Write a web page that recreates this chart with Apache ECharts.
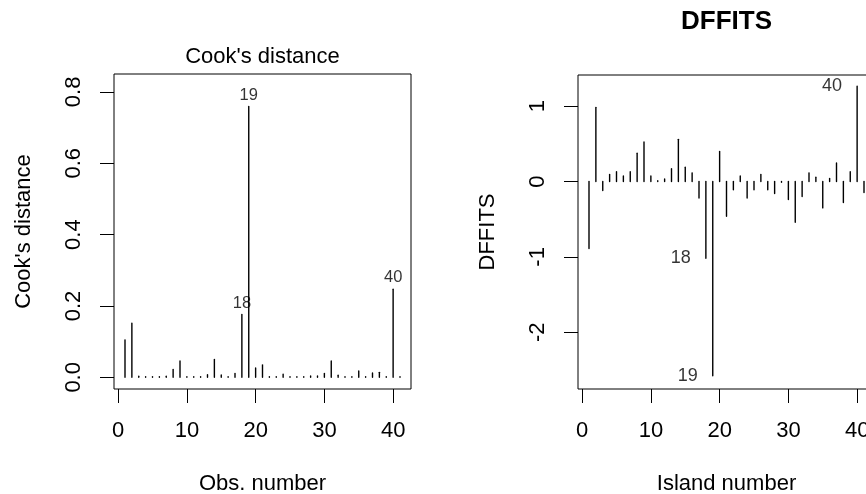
<!DOCTYPE html>
<html>
<head>
<meta charset="utf-8">
<script src="https://cdn.jsdelivr.net/npm/echarts@6/dist/echarts.min.js"></script>
<style>
  html, body { margin: 0; padding: 0; background: #fff; }
  #main { width: 866px; height: 494px; }
</style>
</head>
<body>
<div id="main"></div>
<script>
// observation numbers 1..41
const obs = [1,2,3,4,5,6,7,8,9,10,11,12,13,14,15,16,17,18,19,20,21,22,23,24,25,26,27,28,29,30,31,32,33,34,35,36,37,38,39,40,41]
// Cook's distance per observation
const cooks = [0.105,0.152,0.003,0.002,0.002,0.002,0.003,0.022,0.046,0.002,
  0.002,0.002,0.0075,0.050,0.0065,0.002,0.011,0.176,0.759,0.026,
  0.035,0.002,0.002,0.009,0.002,0.002,0.002,0.004,0.004,0.011,
  0.046,0.006,0.002,0.002,0.018,0.002,0.012,0.014,0.002,0.247,0.002]
// DFFITS per island
const dffits = [-0.89,0.985,-0.12,0.093,0.13,0.075,0.13,0.375,0.525,0.075,
  0.01,0.035,0.17,0.56,0.19,0.115,-0.22,-1.02,-2.58,0.40,
  -0.46,-0.11,0.075,-0.22,-0.11,0.093,-0.11,-0.16,-0.01,-0.24,
  -0.54,-0.20,0.115,0.057,-0.35,0.04,0.247,-0.28,0.13,1.267,-0.146]
// labelled points
const cookIds = [18, 19, 40]
const dffitsIds = [18, 19, 40]
// tick labels
const xTicks = [0, 10, 20, 30, 40]
const cookTicks = [0, 0.2, 0.4, 0.6, 0.8]
const dffitsTicks = [-2, -1, 0, 1]

const FONT = 'Liberation Sans, Arial, sans-serif'
const chart = echarts.init(document.getElementById('main'))

// vertical line from 0 to the value, like R type = "h"
function spike (params, api) {
  const p0 = api.coord([api.value(0), 0])
  const p1 = api.coord([api.value(0), api.value(1)])
  return {
    type: 'line',
    shape: { x1: p0[0], y1: p0[1], x2: p1[0], y2: p1[1] },
    style: { stroke: '#000', lineWidth: 1.4, lineCap: 'round' }
  }
}

function xAxisOf (idx, name) {
  return {
    type: 'value', gridIndex: idx, min: -0.6, max: 42.6,
    name: name, nameLocation: 'middle', nameGap: 84,
    nameTextStyle: { color: '#000', fontSize: 22, fontFamily: FONT },
    splitLine: { show: false },
    axisLine: { show: false, onZero: false },
    axisTick: { show: true, inside: false, length: 14, customValues: xTicks, lineStyle: { color: '#000' } },
    axisLabel: { customValues: xTicks, margin: 31, color: '#000', fontSize: 22, fontFamily: FONT }
  }
}

function yAxisOf (idx, name, min, max, ticks, fmt) {
  return {
    type: 'value', gridIndex: idx, min: min, max: max,
    name: name, nameLocation: 'middle', nameGap: 79,
    nameTextStyle: { color: '#000', fontSize: 22, fontFamily: FONT },
    splitLine: { show: false },
    axisLine: { show: false, onZero: false },
    axisTick: { show: true, inside: false, length: 14, customValues: ticks, lineStyle: { color: '#000' } },
    axisLabel: { customValues: ticks, formatter: fmt, rotate: 90, margin: 29, color: '#000', fontSize: 22, fontFamily: FONT }
  }
}

let option = {
  animation: false,
  backgroundColor: '#fff',
  grid: [
    { left: 114, top: 74, width: 297, height: 315, outerBoundsMode: 'none', containLabel: false, show: true, borderColor: '#000', borderWidth: 1 },
    { left: 578, top: 75, width: 297, height: 314, outerBoundsMode: 'none', containLabel: false, show: true, borderColor: '#000', borderWidth: 1 }
  ],
  xAxis: [xAxisOf(0, 'Obs. number'), xAxisOf(1, 'Island number')],
  yAxis: [
    yAxisOf(0, "Cook's distance", -0.0327, 0.850, cookTicks, v => v.toFixed(1)),
    yAxisOf(1, 'DFFITS', -2.7544, 1.4144, dffitsTicks, v => String(v))
  ],
  graphic: [
    { type: 'text', x: 262.5, y: 57, style: { text: "Cook's distance", fill: '#000', font: '22px ' + FONT, textAlign: 'center', textVerticalAlign: 'middle' } },
    { type: 'text', x: 726.5, y: 22, style: { text: 'DFFITS', fill: '#000', font: 'bold 26px ' + FONT, textAlign: 'center', textVerticalAlign: 'middle' } }
  ],
  series: [
    {
      type: 'custom', xAxisIndex: 0, yAxisIndex: 0, renderItem: spike,
      data: obs.map((o, i) => [o, cooks[i]])
    },
    {
      type: 'custom', xAxisIndex: 1, yAxisIndex: 1, renderItem: spike,
      data: obs.map((o, i) => [o, dffits[i]])
    },
    {
      type: 'scatter', xAxisIndex: 0, yAxisIndex: 0, symbolSize: 0, silent: true,
      data: cookIds.map(id => ({ name: String(id), value: [id, cooks[id - 1]] })),
      label: { show: true, position: 'top', distance: 3, formatter: '{b}', color: '#000', fontSize: 16.5, fontFamily: FONT }
    },
    {
      type: 'scatter', xAxisIndex: 1, yAxisIndex: 1, symbolSize: 0, silent: true,
      data: dffitsIds.map(id => ({ name: String(id), value: [id, dffits[id - 1]] })),
      label: { show: true, position: 'left', distance: 15, formatter: '{b}', color: '#000', fontSize: 18, fontFamily: FONT }
    }
  ]
}
chart.setOption(option)
</script>
</body>
</html>
